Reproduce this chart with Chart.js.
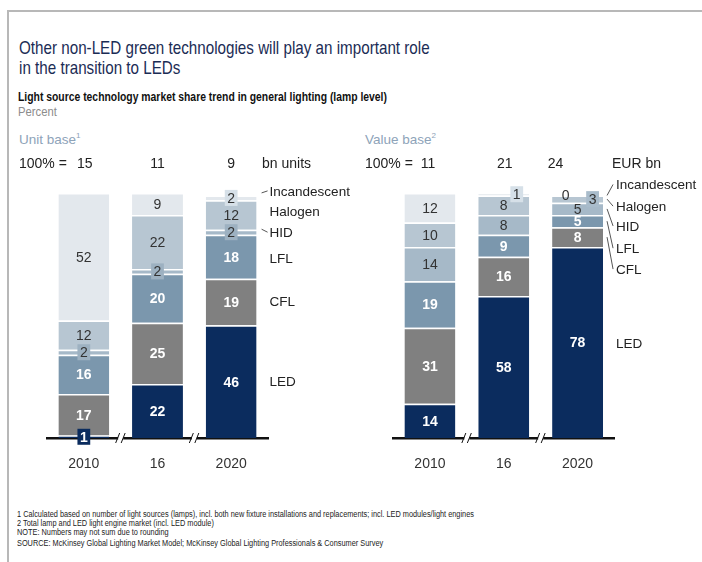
<!DOCTYPE html>
<html lang="en">
<head>
<meta charset="UTF-8">
<title>Light source technology market share</title>
<script src="https://cdn.jsdelivr.net/npm/chart.js"></script>
<style>
    body {
        margin: 0;
        width: 702px;
        height: 562px;
        position: relative;
        overflow: hidden;
        background: #fff;
        font-family: "Liberation Sans", Arial, sans-serif;
    }
    .frame {
        position: absolute;
        left: 7px;
        top: 10px;
        right: -10px;
        bottom: -10px;
        border-left: 2px solid #b8b8b8;
        border-top: 2px solid #b8b8b8;
    }
    .txt { position: absolute; white-space: nowrap; transform-origin: 0 0; }
    #title { left: 19px; top: 38px; font-size: 19px; line-height: 19.5px; color: #1b2c55; transform: scaleX(0.8); }
    #subtitle { left: 18px; top: 91px; font-size: 12.5px; line-height: 12.5px; font-weight: bold; color: #111; transform: scaleX(0.83); }
    #percent { left: 18px; top: 106px; font-size: 12.5px; line-height: 12.5px; color: #8c8c8c; transform: scaleX(0.9); }
    .base { top: 133px; font-size: 13.5px; line-height: 14px; color: #8ea3b9; }
    .base sup { font-size: 8px; vertical-align: 6px; line-height: 0; }
    #notes { left: 17px; top: 510px; font-size: 8.5px; line-height: 9px; color: #222; transform: scaleX(0.865); }
    #notes .src { margin-top: 1.5px; }
    canvas { position: absolute; }
</style>
</head>
<body>
<div class="frame"></div>
<div id="title" class="txt">Other non-LED green technologies will play an important role<br>in the transition to LEDs</div>
<div id="subtitle" class="txt">Light source technology market share trend in general lighting (lamp level)</div>
<div id="percent" class="txt">Percent</div>
<div class="txt base" style="left:19px">Unit base<sup>1</sup></div>
<div class="txt base" style="left:365px">Value base<sup>2</sup></div>

<div style="position:absolute; left:0; top:140px; width:360px; height:345px;"><canvas id="unitChart"></canvas></div>
<div style="position:absolute; left:350px; top:140px; width:352px; height:345px;"><canvas id="valueChart"></canvas></div>

<div id="notes" class="txt">
    <div>1 Calculated based on number of light sources (lamps), incl. both new fixture installations and replacements; incl. LED modules/light engines</div>
    <div>2 Total lamp and LED light engine market (incl. LED module)</div>
    <div>NOTE: Numbers may not sum due to rounding</div>
    <div class="src">SOURCE: McKinsey Global Lighting Market Model; McKinsey Global Lighting Professionals &amp; Consumer Survey</div>
</div>

<script>
const years = ['2010', '16', '2020'];
const technologies = ['LED', 'CFL', 'LFL', 'HID', 'Halogen', 'Incandescent'];

// Unit base, % of lamps sold
const unitLED = [1, 22, 46];
const unitCFL = [17, 25, 19];
const unitLFL = [16, 20, 18];
const unitHID = [2, 2, 2];
const unitHalogen = [12, 22, 12];
const unitIncandescent = [52, 9, 2];
const unitTotals = [15, 11, 9];          // bn units

// Value base, % of market value
const valueLED = [14, 58, 78];
const valueCFL = [31, 16, 8];
const valueLFL = [19, 9, 5];
const valueHID = [14, 8, 5];
const valueHalogen = [10, 8, 3];
const valueIncandescent = [12, 1, 0];
const valueTotals = [11, 21, 24];        // EUR bn

const FONT = '"Liberation Sans", Arial, sans-serif';

// fill, label colour, bold label, colour of the small callout box
const styles = {
    LED:          { fill: '#0b2c5e', text: '#ffffff', bold: true,  box: '#0b2c5e' },
    CFL:          { fill: '#808080', text: '#ffffff', bold: true,  box: '#808080' },
    LFL:          { fill: '#7b97ad', text: '#ffffff', bold: true,  box: '#7b97ad' },
    HID:          { fill: '#a6b9c8', text: '#333333', bold: false, box: '#9db1c1' },
    Halogen:      { fill: '#b7c6d2', text: '#333333', bold: false, box: '#a9bccb' },
    Incandescent: { fill: '#e3e8ed', text: '#333333', bold: false, box: '#d6e0e8' }
};

function makeDatasets(rows) {
    return technologies.map((name, k) => ({
        label: name,
        data: rows[k],
        backgroundColor: styles[name].fill,
        borderColor: '#ffffff',
        borderWidth: { top: 1.5, right: 0, bottom: 0, left: 0 },
        borderSkipped: false,
        textColor: styles[name].text,
        boldText: styles[name].bold,
        boxColor: styles[name].box,
        barPercentage: 0.69,
        categoryPercentage: 1
    }));
}

// numbers inside the segments, the "100% =" row, series names and axis breaks
const annotate = {
    id: 'annotate',
    afterDraw(chart, args, opts) {
        const ctx = chart.ctx;
        const xs = chart.scales.x;
        const area = chart.chartArea;
        ctx.save();
        ctx.textAlign = 'center';
        ctx.textBaseline = 'middle';

        chart.data.datasets.forEach((ds, di) => {
            chart.getDatasetMeta(di).data.forEach((bar, i) => {
                const v = ds.data[i];
                const spec = opts.callouts[di + ':' + i] || {};
                const x = bar.x + (spec.dx || 0);
                const y = (bar.y + bar.base) / 2 + (spec.dy || 0);
                ctx.font = (ds.boldText ? 'bold ' : '') + '14px ' + FONT;
                if (v <= 3 && spec.box !== false) {
                    const w = ctx.measureText(String(v)).width + 5;
                    ctx.fillStyle = ds.boxColor;
                    ctx.fillRect(x - w / 2, y - 8, w, 16);
                }
                ctx.fillStyle = ds.textColor;
                ctx.fillText(String(v), x, y + 1);
            });
        });

        // totals row
        ctx.font = '14px ' + FONT;
        ctx.fillStyle = '#222';
        const rowY = 24;
        ctx.textAlign = 'left';
        ctx.fillText('100% =', opts.prefixX, rowY);
        ctx.fillText(opts.unit, opts.unitX, rowY);
        ctx.textAlign = 'center';
        opts.totals.forEach((t, i) => {
            ctx.fillText(String(t), xs.getPixelForValue(i) + (opts.totalsNudge[i] || 0), rowY);
        });

        // series names next to the last bar
        const last = chart.data.labels.length - 1;
        ctx.textAlign = 'left';
        ctx.font = '13.5px ' + FONT;
        ctx.strokeStyle = '#555';
        ctx.lineWidth = 1;
        chart.data.datasets.forEach((ds, di) => {
            const bar = chart.getDatasetMeta(di).data[last];
            const segY = (bar.y + bar.base) / 2;
            const right = bar.x + bar.width / 2;
            const lx = right + 13;
            const ly = segY + opts.nameNudge[di];
            ctx.fillStyle = '#222';
            ctx.fillText(ds.label, lx, ly);
            const lead = opts.leaders[di];
            if (lead === 'seg') {
                ctx.beginPath();
                ctx.moveTo(right + 4, segY);
                ctx.lineTo(lx - 3, ly - 1);
                ctx.stroke();
            } else if (typeof lead === 'number') {
                ctx.beginPath();
                ctx.moveTo(lx - 8, ly + lead);
                ctx.lineTo(lx - 2, ly - 1);
                ctx.stroke();
            }
        });

        // axis breaks between the columns
        const by = area.bottom;
        for (let i = 0; i < last; i++) {
            const bx = (xs.getPixelForValue(i) + xs.getPixelForValue(i + 1)) / 2;
            ctx.fillStyle = '#fff';
            ctx.fillRect(bx - 2.5, by - 3, 5, 6);
            ctx.strokeStyle = '#111';
            ctx.lineWidth = 1;
            ctx.beginPath();
            ctx.moveTo(bx - 5, by + 5); ctx.lineTo(bx - 1, by - 5);
            ctx.moveTo(bx + 0.5, by + 5); ctx.lineTo(bx + 4.5, by - 5);
            ctx.stroke();
        }
        ctx.restore();
    }
};

function makeChart(id, rows, pad, annot) {
    return new Chart(document.getElementById(id), {
        type: 'bar',
        data: { labels: years, datasets: makeDatasets(rows) },
        plugins: [annotate],
        options: {
            responsive: true,
            maintainAspectRatio: false,
            animation: false,
            layout: { padding: pad },
            plugins: {
                legend: { display: false },
                tooltip: { enabled: false },
                annotate: annot
            },
            scales: {
                x: {
                    stacked: true,
                    grid: { display: false, drawTicks: false },
                    border: { display: true, color: '#111', width: 2.5 },
                    ticks: { color: '#333', font: { family: FONT, size: 14 }, padding: 18 },
                    afterFit(scale) { scale.height = 47; }
                },
                y: { stacked: true, display: false, min: 0, max: 100 }
            }
        }
    });
}

makeChart('unitChart',
    [unitLED, unitCFL, unitLFL, unitHID, unitHalogen, unitIncandescent],
    { left: 47, right: 92, top: 53, bottom: 0 },
    {
        callouts: {},
        totals: unitTotals,
        totalsNudge: [1, 0, 0],
        prefixX: 19,
        unit: 'bn units',
        unitX: 262,
        nameNudge: [1, 0, 3, 1, -3, -6],
        leaders: [null, null, null, -4, null, 1]
    });

makeChart('valueChart',
    [valueLED, valueCFL, valueLFL, valueHID, valueHalogen, valueIncandescent],
    { left: 43, right: 87.5, top: 53, bottom: 0 },
    {
        callouts: {
            '5:1': { dx: 13 },
            '5:2': { dx: -12, box: false },
            '4:2': { dx: 15 }
        },
        totals: valueTotals,
        totalsNudge: [-2, 1, -22],
        prefixX: 15,
        unit: 'EUR bn',
        unitX: 262,
        nameNudge: [2, 33, 28, 18, 8, -10],
        leaders: [null, 'seg', 'seg', 'seg', 'seg', 'seg']
    });
</script>
</body>
</html>
